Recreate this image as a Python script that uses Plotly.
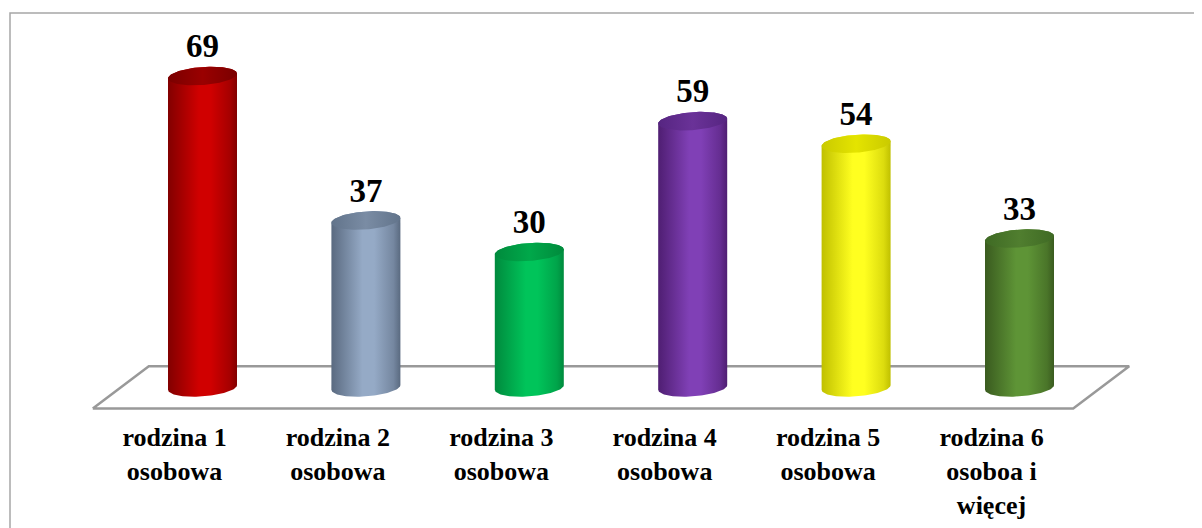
import numpy as np
import plotly.graph_objects as go

# ---------------- data ----------------
categories = ["rodzina 1<br>osobowa", "rodzina 2<br>osobowa", "rodzina 3<br>osobowa",
              "rodzina 4<br>osobowa", "rodzina 5<br>osobowa", "rodzina 6<br>osoboa i<br>więcej"]
values = [69, 37, 30, 59, 54, 33]

# ---------------- styles ----------------
# (edge dark, highlight, top-face dark, top-face light)
bar_styles = [
    ("#820000", "#d00000", "#7a0000", "#9a0000"),
    ("#5a6a80", "#95aac6", "#62748b", "#7a8ca4"),
    ("#008a3d", "#00c45a", "#008a3c", "#00a84a"),
    ("#4f1e72", "#8040b6", "#562581", "#6a3298"),
    ("#c0c000", "#ffff20", "#caca00", "#e4e400"),
    ("#3a5b1f", "#5e9436", "#3f6a24", "#507e2f"),
]
FONT = "Times New Roman, Liberation Serif, serif"


def blend(c1, c2, f):
    a = [int(c1[k:k + 2], 16) for k in (1, 3, 5)]
    b = [int(c2[k:k + 2], 16) for k in (1, 3, 5)]
    return "#" + "".join(f"{round(x + (y - x) * f):02x}" for x, y in zip(a, b))


# ---------------- geometry (pixels, page has 8px body margin) ----------------
OFF = 8
W, H = 1202, 528
ML, MT = 10 - OFF, 13 - OFF
PX_CAT = 163.4
LABEL0_PX = 174.5 - OFF
ZERO_PX = 387.4 - OFF
PX_UNIT = 4.513
AXIS_BOTTOM_PX = 419 - OFF
DEPTH_PX = 56
FLOOR_HALF_PX = 21.2
A_PX, B_PX, SHEAR = 34.5, 9.0, 0.07
LABEL_GAP_PX = 27

xr = [(ML - LABEL0_PX) / PX_CAT, (W - LABEL0_PX) / PX_CAT]
yr = [(ZERO_PX - AXIS_BOTTOM_PX) / PX_UNIT, (ZERO_PX - MT) / PX_UNIT]
dom0 = (H - AXIS_BOTTOM_PX) / (H - MT)

n = len(values)
shift = (DEPTH_PX / 2) / PX_CAT
fh = FLOOR_HALF_PX / PX_UNIT
dd = DEPTH_PX / PX_CAT

fig = go.Figure()

# floor
fx = [-0.5, n - 0.5, n - 0.5 + dd, -0.5 + dd, -0.5]
fy = [-fh, -fh, fh, fh, -fh]
fig.add_trace(go.Scatter(x=fx, y=fy, mode="lines", line=dict(color="#999999", width=2.5),
                         hoverinfo="skip", showlegend=False))


def ell(cx, cy, t):
    x = cx + A_PX * np.cos(t) / PX_CAT
    y = cy + (B_PX * np.sin(t) + SHEAR * A_PX * np.cos(t)) / PX_UNIT
    return x, y


for i, v in enumerate(values):
    edge, hi, tdark, tlight = bar_styles[i]
    cx = i + shift
    tl = np.linspace(np.pi, 2 * np.pi, 60)
    tu = np.linspace(0, np.pi, 60)
    bx, by = ell(cx, 0, tl)
    ux, uy = ell(cx, v, tu)
    xs = np.concatenate([bx, ux, bx[:1]])
    ys = np.concatenate([by, uy, by[:1]])
    fig.add_trace(go.Scatter(
        x=xs, y=ys, mode="lines", fill="toself", line=dict(width=0, color=edge),
        fillgradient=dict(type="horizontal",
                          colorscale=[[0, edge], [0.45, hi], [0.62, hi],
                                      [0.9, blend(edge, hi, 0.45)], [1, edge]]),
        hoverinfo="skip", showlegend=False))
    ta = np.linspace(0, 2 * np.pi, 120)
    tx, ty = ell(cx, v, ta)
    fig.add_trace(go.Scatter(
        x=tx, y=ty, mode="lines", fill="toself", line=dict(width=0, color=tdark),
        fillgradient=dict(type="horizontal", colorscale=[[0, tdark], [0.5, tlight], [1, tdark]]),
        hoverinfo="skip", showlegend=False))

# value labels
fig.add_trace(go.Scatter(
    x=[i + shift for i in range(n)], y=[v + LABEL_GAP_PX / PX_UNIT for v in values],
    mode="text", text=[str(v) for v in values], textposition="middle center",
    textfont=dict(family=FONT, size=33, color="black", weight="bold"),
    hoverinfo="skip", showlegend=False, cliponaxis=False))

fig.update_layout(
    width=W, height=H,
    margin=dict(l=ML, r=0, t=MT, b=0, pad=0),
    paper_bgcolor="white", plot_bgcolor="white",
    xaxis=dict(range=xr, tickvals=list(range(n)), ticktext=categories,
               showgrid=False, zeroline=False, showline=False, ticks="",
               tickfont=dict(family=FONT, size=26, color="black", weight="bold"),
               fixedrange=True, anchor="y"),
    yaxis=dict(range=yr, domain=[dom0, 1], showgrid=False, zeroline=False,
               showline=False, showticklabels=False, ticks="", fixedrange=True),
    shapes=[dict(type="rect", xref="paper", yref="paper", x0=0, y0=-0.05, x1=1.05, y1=1,
                 line=dict(color="#a6a6a6", width=1.5), layer="below")],
)

fig.write_html("out.html")
